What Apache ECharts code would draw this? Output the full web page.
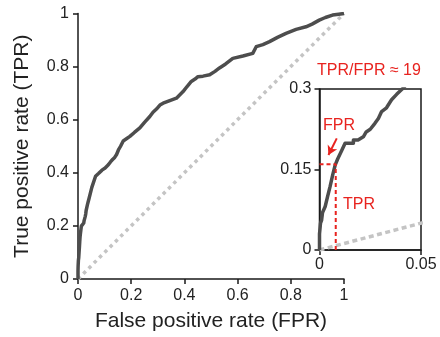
<!DOCTYPE html>
<html><head><meta charset="utf-8">
<script src="https://cdn.jsdelivr.net/npm/echarts@6/dist/echarts.min.js"></script>
<style>html,body{margin:0;padding:0;background:#fff}#c{width:440px;height:337px}</style>
</head><body><div id="c"></div>
<script>
// ROC curve (FPR, TPR)
var rocFPR = [0,0,0.0005,0.001,0.0015,0.0028,0.004,0.0052,0.0065,0.0077,0.009,0.011,0.0126,0.0167,0.0167,0.019,0.0216,0.023,0.025,0.0273,0.029,0.0306,0.033,0.0355,0.038,0.041,0.052,0.066,0.078,0.09,0.102,0.114,0.122,0.13,0.138,0.145,0.152,0.16,0.17,0.182,0.195,0.212,0.2325,0.25,0.27,0.282,0.295,0.308,0.32,0.345,0.37,0.383,0.395,0.41,0.426,0.44,0.451,0.47,0.495,0.515,0.532,0.555,0.582,0.62,0.657,0.67,0.695,0.72,0.75,0.782,0.82,0.857,0.88,0.907,0.93,0.957,0.98,1];
var rocTPR = [0,0.03,0.05,0.055,0.07,0.081,0.1,0.118,0.14,0.158,0.17,0.186,0.199,0.199,0.205,0.205,0.211,0.22,0.225,0.236,0.245,0.258,0.265,0.28,0.29,0.301,0.345,0.387,0.398,0.41,0.418,0.43,0.441,0.45,0.458,0.469,0.486,0.5,0.52,0.528,0.537,0.552,0.569,0.59,0.612,0.628,0.64,0.655,0.662,0.672,0.681,0.694,0.706,0.725,0.744,0.753,0.762,0.764,0.769,0.782,0.795,0.81,0.831,0.84,0.85,0.875,0.883,0.894,0.91,0.925,0.94,0.95,0.96,0.975,0.985,0.994,0.997,1];
var chanceFPR = [0,1];
var chanceTPR = [0,1];
var mainTicks = [0,0.2,0.4,0.6,0.8,1];
var insetXTicks = [0,0.05];
var insetYTicks = [0,0.15,0.3];
// operating point marked in inset
var opFPR = 0.008, opTPR = 0.16;
var arrowFrom = [0.0085,0.208], arrowTo = [0.0044,0.177];
var ratioLabel = 'TPR/FPR ≈ 19';

var rocData = rocFPR.map(function(x,i){return [x,rocTPR[i]];});
var chanceData = chanceFPR.map(function(x,i){return [x,chanceTPR[i]];});
var F = '"Liberation Sans", Arial, sans-serif';
var RED = '#e8231f';
var AX = '#1a1a1a';

function axisCommon(extra){
  var o = {
    axisLine:{show:true,lineStyle:{color:AX,width:1.5}},
    axisTick:{show:true,inside:false,length:5,lineStyle:{color:AX,width:1.5}},
    splitLine:{show:false},
    axisLabel:{color:'#222',fontFamily:F,fontSize:16}
  };
  for (var k in extra) o[k]=extra[k];
  return o;
}

var chart = echarts.init(document.getElementById('c'), null, {renderer:'canvas'});
chart.setOption({
  animation:false,
  backgroundColor:'#fff',
  grid:[
    {left:78,right:96,top:13.5,bottom:57,containLabel:false},
    {left:319.5,top:89,width:101.5,height:161,containLabel:false,show:true,borderColor:AX,borderWidth:1.5,backgroundColor:'#fff',z:5}
  ],
  xAxis:[
    axisCommon({gridIndex:0,type:'value',min:mainTicks[0],max:mainTicks[mainTicks.length-1],interval:mainTicks[1]-mainTicks[0],
      name:'False positive rate (FPR)',nameLocation:'middle',nameGap:32,
      nameTextStyle:{fontFamily:F,fontSize:21,color:'#222'},
      axisLabel:{color:'#222',fontFamily:F,fontSize:16,margin:9}}),
    axisCommon({gridIndex:1,type:'value',min:insetXTicks[0],max:insetXTicks[1],interval:insetXTicks[1]-insetXTicks[0],z:6,
      axisLabel:{color:'#222',fontFamily:F,fontSize:16,margin:7}})
  ],
  yAxis:[
    axisCommon({gridIndex:0,type:'value',min:mainTicks[0],max:mainTicks[mainTicks.length-1],interval:mainTicks[1]-mainTicks[0],
      name:'True positive rate (TPR)',nameLocation:'middle',nameGap:45,
      nameTextStyle:{fontFamily:F,fontSize:21,color:'#222'},
      axisLabel:{color:'#222',fontFamily:F,fontSize:16,margin:9}}),
    axisCommon({gridIndex:1,type:'value',min:insetYTicks[0],max:insetYTicks[2],interval:insetYTicks[1]-insetYTicks[0],z:6,
      axisLabel:{color:'#222',fontFamily:F,fontSize:16,margin:8}})
  ],
  series:[
    {type:'line',xAxisIndex:0,yAxisIndex:0,data:chanceData,showSymbol:false,symbol:'none',
      lineStyle:{color:'#c4c4c4',width:3.5,type:[3.5,4]},z:2},
    {type:'line',xAxisIndex:0,yAxisIndex:0,data:rocData,showSymbol:false,symbol:'none',
      lineStyle:{color:'#4d4d4d',width:3.5,join:'round'},z:3},
    {type:'line',xAxisIndex:1,yAxisIndex:1,data:chanceData,showSymbol:false,symbol:'none',clip:true,
      lineStyle:{color:'#c4c4c4',width:3.5,type:[5,3.5]},z:7},
    {type:'line',xAxisIndex:1,yAxisIndex:1,data:rocData,showSymbol:false,symbol:'none',clip:true,
      lineStyle:{color:'#4d4d4d',width:3.5,join:'round'},z:8},
    {type:'line',xAxisIndex:1,yAxisIndex:1,data:[[0,opTPR],[opFPR,opTPR],[opFPR,0]],showSymbol:false,symbol:'none',clip:true,
      lineStyle:{color:RED,width:2,type:[4,3]},z:9,
      markLine:{silent:true,symbol:['none','arrow'],symbolSize:[8,9],
        lineStyle:{color:RED,width:2,type:'solid'},label:{show:false},
        data:[[{coord:arrowFrom},{coord:arrowTo}]]}}
  ],
  graphic:[
    {type:'text',left:317,top:63,z:20,style:{text:ratioLabel,fill:RED,font:'16px '+F}},
    {type:'text',left:323,top:118,z:20,style:{text:'FPR',fill:RED,font:'16px '+F}},
    {type:'text',left:343,top:197,z:20,style:{text:'TPR',fill:RED,font:'16px '+F}}
  ]
});
</script>
</body></html>
